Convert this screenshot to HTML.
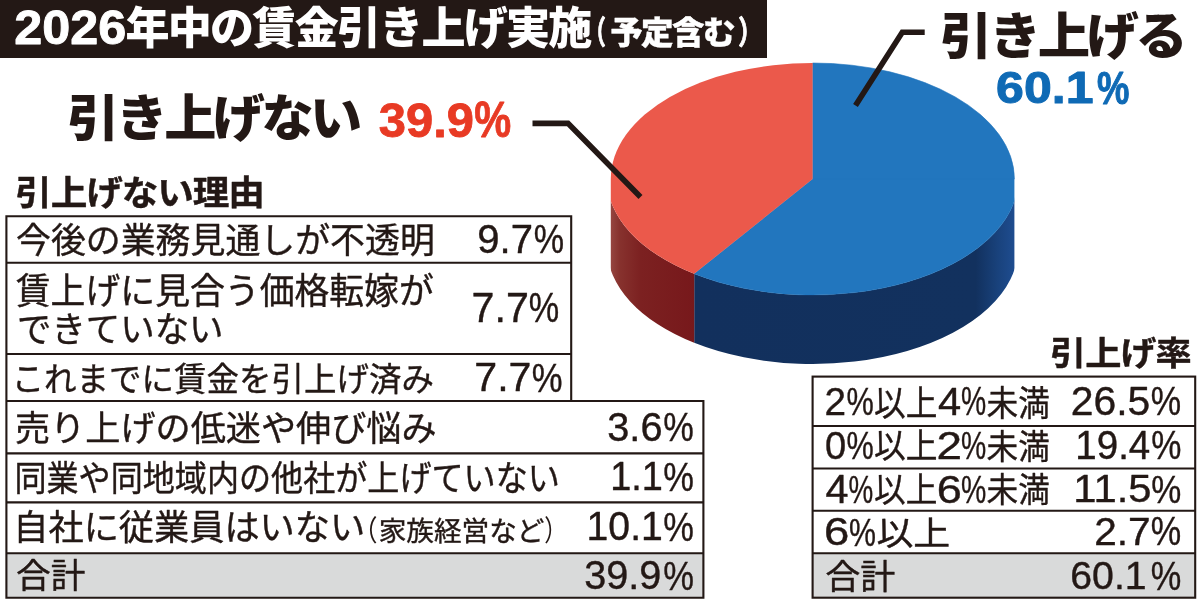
<!DOCTYPE html>
<html lang="ja">
<head>
<meta charset="utf-8">
<title>2026年中の賃金引き上げ実施（予定含む）</title>
<style>
html,body{margin:0;padding:0;background:#fff;}
body{width:1200px;height:602px;overflow:hidden;position:relative;}
svg{display:block;position:absolute;left:0;top:0;}
text{font-family:"Liberation Sans","Noto Sans CJK JP",sans-serif;white-space:pre;}
</style>
</head>
<body>
<svg width="1200" height="602" viewBox="0 0 1200 602">
<defs>
<linearGradient id="gRed" gradientUnits="userSpaceOnUse" x1="611" y1="0" x2="695" y2="0">
<stop offset="0" stop-color="#954540"/>
<stop offset="0.1" stop-color="#87322e"/>
<stop offset="0.35" stop-color="#7c2121"/>
<stop offset="1" stop-color="#77181b"/>
</linearGradient>
<linearGradient id="gBlue" gradientUnits="userSpaceOnUse" x1="694" y1="0" x2="1014" y2="0">
<stop offset="0" stop-color="#12305d"/>
<stop offset="0.88" stop-color="#12315e"/>
<stop offset="0.95" stop-color="#19427c"/>
<stop offset="1" stop-color="#1e4c8f"/>
</linearGradient>
</defs>
<rect x="0" y="0" width="1200" height="602" fill="#fff"/>
<!-- title bar -->
<rect x="0" y="0" width="767" height="58" fill="#231815"/>
<!-- pie -->
<g id="pie">
<clipPath id="clipU"><rect x="0" y="0" width="1200" height="179"/></clipPath>
<clipPath id="clipL"><rect x="610.8" y="179" width="403.6" height="423"/></clipPath>
<g clip-path="url(#clipL)">
<path d="M1018.10,179.00 A205.50,116.00 0 0 1 694.20,273.81 L694.20,342.81 A205.50,116.00 0 0 0 1018.10,248.00 Z" fill="url(#gBlue)"/>
<path d="M694.20,273.81 A205.50,116.00 0 0 1 607.10,179.00 L607.10,248.00 A205.50,116.00 0 0 0 694.20,342.81 Z" fill="url(#gRed)"/>
<path d="M812.60,179.00 L1018.10,179.00 A205.50,116.00 0 0 1 694.20,273.81 Z" fill="#2276be" stroke="#2276be" stroke-width="0.6"/>
<path d="M812.60,179.00 L694.20,273.81 A205.50,116.00 0 0 1 607.10,179.00 Z" fill="#eb594b"/>
</g>
<g clip-path="url(#clipU)">
<path d="M812.60,179.00 L812.60,63.00 A201.80,116.00 0 0 1 1014.40,179.00 Z" fill="#2276be" stroke="#2276be" stroke-width="0.6"/>
<path d="M812.60,179.00 L610.80,179.00 A201.80,116.00 0 0 1 812.60,63.00 Z" fill="#eb594b"/>
</g>

</g>
<!-- leader lines -->
<polyline points="532.5,123.4 568,123.4 640.5,197" fill="none" stroke="#231815" stroke-width="5.6"/>
<polyline points="924.7,32.3 902.3,32.3 855.5,105.6" fill="none" stroke="#231815" stroke-width="5.6"/>
<!-- tables -->
<g fill="none" stroke="#231815" stroke-width="2.1">
<rect x="6.4" y="553.3" width="697" height="44.4" fill="#d9dada" stroke="none"/>
<rect x="812.6" y="553.2" width="382.6" height="44.5" fill="#d9dada" stroke="none"/>
<path d="M6.4,216.2 H571.2 V401 H703.4 V597.7 H6.4 Z"/>
<path d="M6.4,262.7 H571.2 M6.4,354 H571.2 M6.4,401 H571.2 M6.4,453.4 H703.4 M6.4,502.4 H703.4 M6.4,553.3 H703.4"/>
<rect x="812.6" y="376.6" width="382.6" height="221.1"/>
<path d="M812.6,426 H1195.2 M812.6,468.5 H1195.2 M812.6,510.8 H1195.2 M812.6,553.2 H1195.2"/>
</g>
<text><tspan x="14.31" y="43.50" font-size="48.79" font-weight="700" fill="#fff" stroke="#fff" stroke-width="0.90" stroke-linejoin="round" textLength="112.01" lengthAdjust="spacingAndGlyphs">2026</tspan><tspan x="125.49" y="43.88" font-size="43.77" font-weight="900" fill="#fff" letter-spacing="-0.040em" textLength="465.18" lengthAdjust="spacingAndGlyphs">年中の賃金引き上げ実施</tspan><tspan x="584.33" y="43.77" font-size="32.02" font-weight="700" fill="#fff" stroke="#fff" stroke-width="0.90" stroke-linejoin="round" textLength="21.55" lengthAdjust="spacingAndGlyphs">（</tspan><tspan x="610.22" y="44.10" font-size="31.67" font-weight="900" fill="#fff" stroke="#fff" stroke-width="0.30" stroke-linejoin="round" letter-spacing="-0.050em" textLength="123.62" lengthAdjust="spacingAndGlyphs">予定含む</tspan><tspan x="738.25" y="43.77" font-size="32.02" font-weight="700" fill="#fff" stroke="#fff" stroke-width="0.90" stroke-linejoin="round" textLength="24.05" lengthAdjust="spacingAndGlyphs">）</tspan></text>
<text><tspan x="67.16" y="136.12" font-size="50.26" font-weight="900" fill="#231815" letter-spacing="-0.070em" textLength="291.44" lengthAdjust="spacingAndGlyphs">引き上げない</tspan></text>
<text><tspan x="378.75" y="136.50" font-size="48.79" font-weight="700" fill="#E83A24" stroke="#E83A24" stroke-width="0.80" stroke-linejoin="round" textLength="95.21" lengthAdjust="spacingAndGlyphs">39.9</tspan><tspan x="474.37" y="136.75" font-size="49.48" font-weight="700" fill="#E83A24" stroke="#E83A24" stroke-width="0.80" stroke-linejoin="round" textLength="36.97" lengthAdjust="spacingAndGlyphs">%</tspan></text>
<text><tspan x="940.14" y="54.02" font-size="50.05" font-weight="900" fill="#231815" letter-spacing="-0.070em" textLength="243.92" lengthAdjust="spacingAndGlyphs">引き上げる</tspan></text>
<text><tspan x="996.11" y="103.28" font-size="44.90" font-weight="700" fill="#0F6AB5" stroke="#0F6AB5" stroke-width="1.00" stroke-linejoin="round" textLength="97.37" lengthAdjust="spacingAndGlyphs">60.1</tspan><tspan x="1096.90" y="103.65" font-size="45.55" font-weight="700" fill="#0F6AB5" stroke="#0F6AB5" stroke-width="1.00" stroke-linejoin="round" textLength="32.40" lengthAdjust="spacingAndGlyphs">%</tspan></text>
<text><tspan x="15.15" y="205.00" font-size="34.57" font-weight="700" fill="#231815" stroke="#231815" stroke-width="0.40" stroke-linejoin="round" letter-spacing="-0.030em" textLength="248.67" lengthAdjust="spacingAndGlyphs">引上げない理由</tspan></text>
<text><tspan x="16.01" y="252.97" font-size="35.18" font-weight="400" fill="#231815" stroke="#231815" stroke-width="0.40" stroke-linejoin="round" textLength="418.80" lengthAdjust="spacingAndGlyphs">今後の業務見通しが不透明</tspan></text>
<text><tspan x="477.27" y="253.05" font-size="40.49" font-weight="400" fill="#231815" stroke="#231815" stroke-width="0.40" stroke-linejoin="round" textLength="55.69" lengthAdjust="spacingAndGlyphs">9.7</tspan><tspan x="533.66" y="253.20" font-size="41.00" font-weight="400" fill="#231815" stroke="#231815" stroke-width="0.40" stroke-linejoin="round" textLength="30.35" lengthAdjust="spacingAndGlyphs">%</tspan></text>
<text><tspan x="15.79" y="303.75" font-size="36.67" font-weight="400" fill="#231815" stroke="#231815" stroke-width="0.40" stroke-linejoin="round" textLength="418.04" lengthAdjust="spacingAndGlyphs">賃上げに見合う価格転嫁が</tspan><tspan x="17.03" y="341.80" font-size="34.80" font-weight="400" fill="#231815" stroke="#231815" stroke-width="0.40" stroke-linejoin="round" textLength="206.49" lengthAdjust="spacingAndGlyphs">できていない</tspan></text>
<text><tspan x="471.53" y="322.02" font-size="41.81" font-weight="400" fill="#231815" stroke="#231815" stroke-width="0.40" stroke-linejoin="round" textLength="57.31" lengthAdjust="spacingAndGlyphs">7.7</tspan><tspan x="528.78" y="322.18" font-size="41.86" font-weight="400" fill="#231815" stroke="#231815" stroke-width="0.40" stroke-linejoin="round" textLength="30.43" lengthAdjust="spacingAndGlyphs">%</tspan></text>
<text><tspan x="11.65" y="390.75" font-size="33.43" font-weight="400" fill="#231815" stroke="#231815" stroke-width="0.40" stroke-linejoin="round" textLength="422.30" lengthAdjust="spacingAndGlyphs">これまでに賃金を引上げ済み</tspan></text>
<text><tspan x="474.27" y="391.48" font-size="40.58" font-weight="400" fill="#231815" stroke="#231815" stroke-width="0.40" stroke-linejoin="round" textLength="57.17" lengthAdjust="spacingAndGlyphs">7.7</tspan><tspan x="531.72" y="391.50" font-size="40.29" font-weight="400" fill="#231815" stroke="#231815" stroke-width="0.40" stroke-linejoin="round" textLength="30.82" lengthAdjust="spacingAndGlyphs">%</tspan></text>
<text><tspan x="15.04" y="440.80" font-size="34.87" font-weight="400" fill="#231815" stroke="#231815" stroke-width="0.40" stroke-linejoin="round" textLength="421.55" lengthAdjust="spacingAndGlyphs">売り上げの低迷や伸び悩み</tspan></text>
<text><tspan x="607.27" y="441.05" font-size="40.49" font-weight="400" fill="#231815" stroke="#231815" stroke-width="0.40" stroke-linejoin="round" textLength="55.23" lengthAdjust="spacingAndGlyphs">3.6</tspan><tspan x="663.35" y="441.20" font-size="41.00" font-weight="400" fill="#231815" stroke="#231815" stroke-width="0.40" stroke-linejoin="round" textLength="30.57" lengthAdjust="spacingAndGlyphs">%</tspan></text>
<text><tspan x="14.46" y="490.80" font-size="34.77" font-weight="400" fill="#231815" stroke="#231815" stroke-width="0.40" stroke-linejoin="round" textLength="545.37" lengthAdjust="spacingAndGlyphs">同業や同地域内の他社が上げていない</tspan></text>
<text><tspan x="610.19" y="490.48" font-size="40.51" font-weight="400" fill="#231815" stroke="#231815" stroke-width="0.40" stroke-linejoin="round" textLength="52.70" lengthAdjust="spacingAndGlyphs">1.1</tspan><tspan x="663.33" y="490.50" font-size="40.22" font-weight="400" fill="#231815" stroke="#231815" stroke-width="0.40" stroke-linejoin="round" textLength="30.66" lengthAdjust="spacingAndGlyphs">%</tspan></text>
<text><tspan x="13.25" y="540.02" font-size="35.53" font-weight="400" fill="#231815" stroke="#231815" stroke-width="0.40" stroke-linejoin="round" textLength="351.88" lengthAdjust="spacingAndGlyphs">自社に従業員はいない</tspan><tspan x="352.68" y="540.95" font-size="28.95" font-weight="400" fill="#231815" textLength="24.76" lengthAdjust="spacingAndGlyphs">（</tspan><tspan x="378.75" y="540.50" font-size="27.69" font-weight="400" fill="#231815" stroke="#231815" stroke-width="0.40" stroke-linejoin="round" textLength="165.58" lengthAdjust="spacingAndGlyphs">家族経営など</tspan><tspan x="544.32" y="540.95" font-size="28.95" font-weight="400" fill="#231815" textLength="22.76" lengthAdjust="spacingAndGlyphs">）</tspan></text>
<text><tspan x="586.60" y="540.15" font-size="40.56" font-weight="400" fill="#231815" stroke="#231815" stroke-width="0.40" stroke-linejoin="round" textLength="76.21" lengthAdjust="spacingAndGlyphs">10.1</tspan><tspan x="663.16" y="540.55" font-size="41.43" font-weight="400" fill="#231815" stroke="#231815" stroke-width="0.40" stroke-linejoin="round" textLength="30.66" lengthAdjust="spacingAndGlyphs">%</tspan></text>
<text><tspan x="15.97" y="588.27" font-size="33.55" font-weight="400" fill="#231815" stroke="#231815" stroke-width="0.40" stroke-linejoin="round" textLength="69.42" lengthAdjust="spacingAndGlyphs">合計</tspan></text>
<text><tspan x="584.26" y="589.42" font-size="40.07" font-weight="400" fill="#231815" stroke="#231815" stroke-width="0.40" stroke-linejoin="round" textLength="77.15" lengthAdjust="spacingAndGlyphs">39.9</tspan><tspan x="663.14" y="589.70" font-size="40.93" font-weight="400" fill="#231815" stroke="#231815" stroke-width="0.40" stroke-linejoin="round" textLength="30.73" lengthAdjust="spacingAndGlyphs">%</tspan></text>
<text><tspan x="1050.10" y="364.77" font-size="33.30" font-weight="700" fill="#231815" stroke="#231815" stroke-width="0.40" stroke-linejoin="round" letter-spacing="-0.030em" textLength="140.39" lengthAdjust="spacingAndGlyphs">引上げ率</tspan></text>
<text><tspan x="824.57" y="415.27" font-size="39.29" font-weight="400" fill="#231815" stroke="#231815" stroke-width="0.40" stroke-linejoin="round" textLength="21.56" lengthAdjust="spacingAndGlyphs">2</tspan><tspan x="846.43" y="415.42" font-size="39.58" font-weight="400" fill="#231815" stroke="#231815" stroke-width="0.40" stroke-linejoin="round" textLength="27.30" lengthAdjust="spacingAndGlyphs">%</tspan><tspan x="874.11" y="415.75" font-size="35.45" font-weight="400" fill="#231815" stroke="#231815" stroke-width="0.40" stroke-linejoin="round" textLength="63.36" lengthAdjust="spacingAndGlyphs">以上</tspan><tspan x="937.91" y="415.02" font-size="39.64" font-weight="400" fill="#231815" stroke="#231815" stroke-width="0.40" stroke-linejoin="round" textLength="23.19" lengthAdjust="spacingAndGlyphs">4</tspan><tspan x="961.11" y="415.27" font-size="39.79" font-weight="400" fill="#231815" stroke="#231815" stroke-width="0.40" stroke-linejoin="round" textLength="25.19" lengthAdjust="spacingAndGlyphs">%</tspan><tspan x="986.59" y="415.62" font-size="34.70" font-weight="400" fill="#231815" stroke="#231815" stroke-width="0.40" stroke-linejoin="round" textLength="63.38" lengthAdjust="spacingAndGlyphs">未満</tspan></text>
<text><tspan x="1070.70" y="415.05" font-size="39.86" font-weight="400" fill="#231815" stroke="#231815" stroke-width="0.40" stroke-linejoin="round" textLength="79.62" lengthAdjust="spacingAndGlyphs">26.5</tspan><tspan x="1150.85" y="415.45" font-size="40.72" font-weight="400" fill="#231815" stroke="#231815" stroke-width="0.40" stroke-linejoin="round" textLength="30.37" lengthAdjust="spacingAndGlyphs">%</tspan></text>
<text><tspan x="825.07" y="458.52" font-size="38.67" font-weight="400" fill="#231815" stroke="#231815" stroke-width="0.40" stroke-linejoin="round" textLength="21.16" lengthAdjust="spacingAndGlyphs">0</tspan><tspan x="846.43" y="458.80" font-size="39.50" font-weight="400" fill="#231815" stroke="#231815" stroke-width="0.40" stroke-linejoin="round" textLength="27.24" lengthAdjust="spacingAndGlyphs">%</tspan><tspan x="874.07" y="458.27" font-size="34.19" font-weight="400" fill="#231815" stroke="#231815" stroke-width="0.40" stroke-linejoin="round" textLength="63.41" lengthAdjust="spacingAndGlyphs">以上</tspan><tspan x="936.63" y="458.55" font-size="38.79" font-weight="400" fill="#231815" stroke="#231815" stroke-width="0.40" stroke-linejoin="round" textLength="25.53" lengthAdjust="spacingAndGlyphs">2</tspan><tspan x="961.10" y="458.80" font-size="39.50" font-weight="400" fill="#231815" stroke="#231815" stroke-width="0.40" stroke-linejoin="round" textLength="25.20" lengthAdjust="spacingAndGlyphs">%</tspan><tspan x="986.56" y="458.52" font-size="33.73" font-weight="400" fill="#231815" stroke="#231815" stroke-width="0.40" stroke-linejoin="round" textLength="63.27" lengthAdjust="spacingAndGlyphs">未満</tspan></text>
<text><tspan x="1075.34" y="458.95" font-size="39.79" font-weight="400" fill="#231815" stroke="#231815" stroke-width="0.40" stroke-linejoin="round" textLength="74.97" lengthAdjust="spacingAndGlyphs">19.4</tspan><tspan x="1151.15" y="459.10" font-size="40.29" font-weight="400" fill="#231815" stroke="#231815" stroke-width="0.40" stroke-linejoin="round" textLength="30.17" lengthAdjust="spacingAndGlyphs">%</tspan></text>
<text><tspan x="825.42" y="502.77" font-size="39.79" font-weight="400" fill="#231815" stroke="#231815" stroke-width="0.40" stroke-linejoin="round" textLength="22.99" lengthAdjust="spacingAndGlyphs">4</tspan><tspan x="848.62" y="503.02" font-size="39.58" font-weight="400" fill="#231815" stroke="#231815" stroke-width="0.40" stroke-linejoin="round" textLength="24.72" lengthAdjust="spacingAndGlyphs">%</tspan><tspan x="874.08" y="502.30" font-size="34.25" font-weight="400" fill="#231815" stroke="#231815" stroke-width="0.40" stroke-linejoin="round" textLength="63.33" lengthAdjust="spacingAndGlyphs">以上</tspan><tspan x="936.66" y="502.52" font-size="38.67" font-weight="400" fill="#231815" stroke="#231815" stroke-width="0.40" stroke-linejoin="round" textLength="25.09" lengthAdjust="spacingAndGlyphs">6</tspan><tspan x="961.10" y="503.02" font-size="39.58" font-weight="400" fill="#231815" stroke="#231815" stroke-width="0.40" stroke-linejoin="round" textLength="25.26" lengthAdjust="spacingAndGlyphs">%</tspan><tspan x="986.56" y="502.43" font-size="33.79" font-weight="400" fill="#231815" stroke="#231815" stroke-width="0.40" stroke-linejoin="round" textLength="63.38" lengthAdjust="spacingAndGlyphs">未満</tspan></text>
<text><tspan x="1073.27" y="502.33" font-size="39.22" font-weight="400" fill="#231815" stroke="#231815" stroke-width="0.40" stroke-linejoin="round" textLength="78.25" lengthAdjust="spacingAndGlyphs">11.5</tspan><tspan x="1151.13" y="502.60" font-size="39.50" font-weight="400" fill="#231815" stroke="#231815" stroke-width="0.40" stroke-linejoin="round" textLength="30.03" lengthAdjust="spacingAndGlyphs">%</tspan></text>
<text><tspan x="824.10" y="545.20" font-size="37.89" font-weight="400" fill="#231815" stroke="#231815" stroke-width="0.40" stroke-linejoin="round" textLength="25.29" lengthAdjust="spacingAndGlyphs">6</tspan><tspan x="849.02" y="545.70" font-size="38.79" font-weight="400" fill="#231815" stroke="#231815" stroke-width="0.40" stroke-linejoin="round" textLength="26.94" lengthAdjust="spacingAndGlyphs">%</tspan><tspan x="876.40" y="544.73" font-size="33.48" font-weight="400" fill="#231815" stroke="#231815" stroke-width="0.40" stroke-linejoin="round" textLength="73.89" lengthAdjust="spacingAndGlyphs">以上</tspan></text>
<text><tspan x="1094.20" y="545.45" font-size="39.50" font-weight="400" fill="#231815" stroke="#231815" stroke-width="0.40" stroke-linejoin="round" textLength="56.48" lengthAdjust="spacingAndGlyphs">2.7</tspan><tspan x="1150.82" y="545.48" font-size="39.79" font-weight="400" fill="#231815" stroke="#231815" stroke-width="0.40" stroke-linejoin="round" textLength="30.44" lengthAdjust="spacingAndGlyphs">%</tspan></text>
<text><tspan x="825.18" y="589.00" font-size="34.42" font-weight="400" fill="#231815" stroke="#231815" stroke-width="0.40" stroke-linejoin="round" textLength="70.15" lengthAdjust="spacingAndGlyphs">合計</tspan></text>
<text><tspan x="1070.25" y="589.33" font-size="39.37" font-weight="400" fill="#231815" stroke="#231815" stroke-width="0.40" stroke-linejoin="round" textLength="76.40" lengthAdjust="spacingAndGlyphs">60.1</tspan><tspan x="1150.83" y="589.60" font-size="40.22" font-weight="400" fill="#231815" stroke="#231815" stroke-width="0.40" stroke-linejoin="round" textLength="30.55" lengthAdjust="spacingAndGlyphs">%</tspan></text>
</svg>
</body>
</html>
